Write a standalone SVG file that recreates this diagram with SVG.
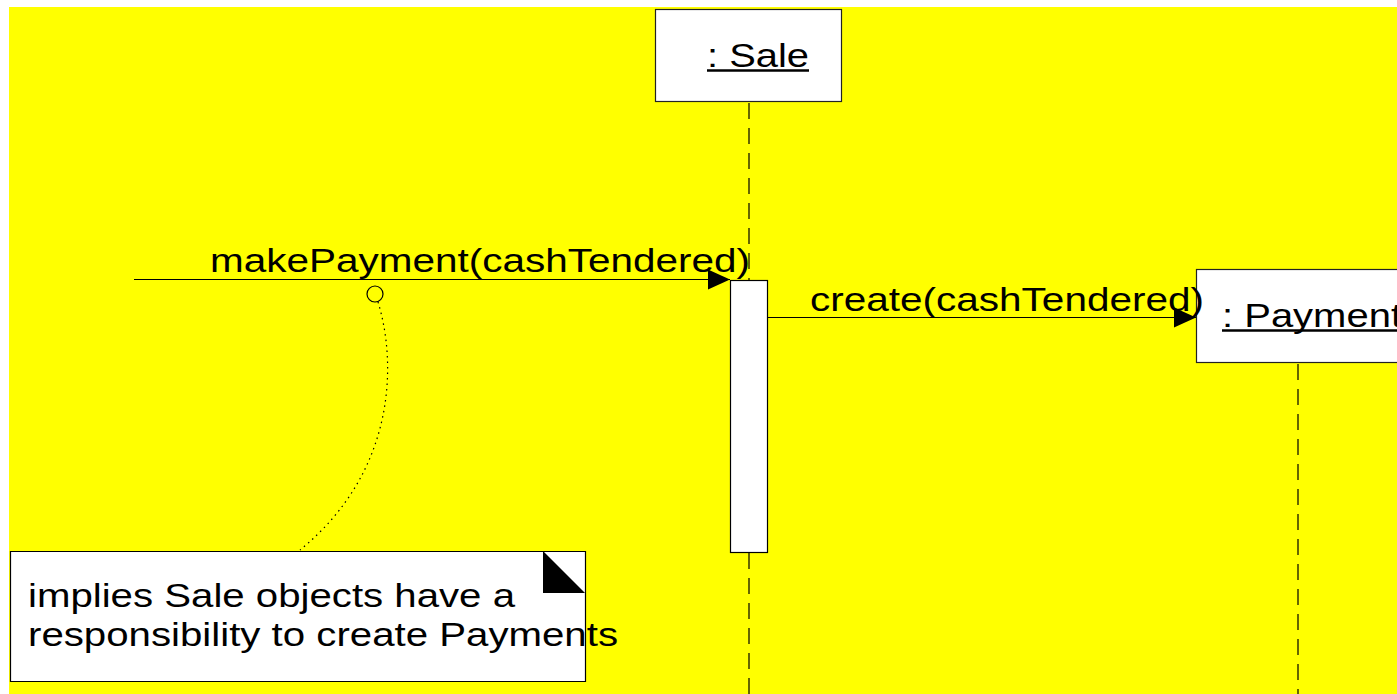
<svg xmlns="http://www.w3.org/2000/svg" width="1397" height="694" viewBox="0 0 1397 694">
  <style>
    .lbl { font-family: "Liberation Sans", Arial, sans-serif; font-size: 33px; fill: #000; }
    .box { fill: #fff; stroke: #222; stroke-width: 1.2; }
    .life { stroke: #000; stroke-width: 1.2; stroke-dasharray: 16 9; fill: none; }
    .msg { stroke: #000; stroke-width: 1.2; fill: none; }
    .ul { stroke: #000; stroke-width: 2.5; }
  </style>
  <defs>
    <marker id="arrow" viewBox="0 0 22 20" refX="22" refY="10" markerWidth="22" markerHeight="20" markerUnits="userSpaceOnUse" orient="auto">
      <path d="M0,0 L22,10 L0,20 Z" fill="#000"/>
    </marker>
  </defs>

  <rect width="1397" height="694" fill="#fff"/>
  <rect x="9" y="7" width="1388" height="687" fill="#ffff00"/>

  <!-- lifelines -->
  <g id="lifelines">
    <line class="life" x1="749" y1="103" x2="749" y2="694"/>
    <line class="life" x1="1298" y1="364" x2="1298" y2="694"/>
  </g>

  <g id="sale">
    <rect class="box" x="655.5" y="9.5" width="186" height="92"/>
    <text class="lbl" x="707" y="67" textLength="102" lengthAdjust="spacingAndGlyphs">: Sale</text>
    <line class="ul" x1="707" y1="70.5" x2="809" y2="70.5"/>
  </g>

  <g id="sale-activation">
    <rect x="730.5" y="280.5" width="37" height="272" fill="#fff" stroke="#000" stroke-width="1.2"/>
  </g>

  <g id="payment">
    <rect class="box" x="1196.5" y="269.5" width="210" height="93"/>
    <text class="lbl" x="1222" y="327" textLength="180" lengthAdjust="spacingAndGlyphs">: Payment</text>
    <line class="ul" x1="1222" y1="330.5" x2="1402" y2="330.5"/>
  </g>

  <g id="note">
    <path d="M10.5,551.5 H585.5 V681.5 H10.5 Z" fill="#fff" stroke="#000" stroke-width="1.2"/>
    <path d="M543,551 L585,593 L543,593 Z" fill="#000"/>
    <text class="lbl" x="28" y="607" textLength="487" lengthAdjust="spacingAndGlyphs">implies Sale objects have a</text>
    <text class="lbl" x="28" y="646" textLength="590" lengthAdjust="spacingAndGlyphs">responsibility to create Payments</text>
  </g>

  <g id="connectors">
    <line class="msg" x1="134" y1="279.5" x2="730" y2="279.5" marker-end="url(#arrow)"/>
    <text class="lbl" x="210" y="272" textLength="540" lengthAdjust="spacingAndGlyphs">makePayment(cashTendered)</text>
    <line class="msg" x1="767" y1="317.5" x2="1196" y2="317.5" marker-end="url(#arrow)"/>
    <text class="lbl" x="810" y="311" textLength="394" lengthAdjust="spacingAndGlyphs">create(cashTendered)</text>
    <circle cx="375" cy="294" r="8" fill="none" stroke="#000" stroke-width="1.2"/>
    <path d="M378,302 C396,360 398,470 300,550" fill="none" stroke="#000" stroke-width="1.2" stroke-dasharray="1.5 4"/>
  </g>
</svg>
